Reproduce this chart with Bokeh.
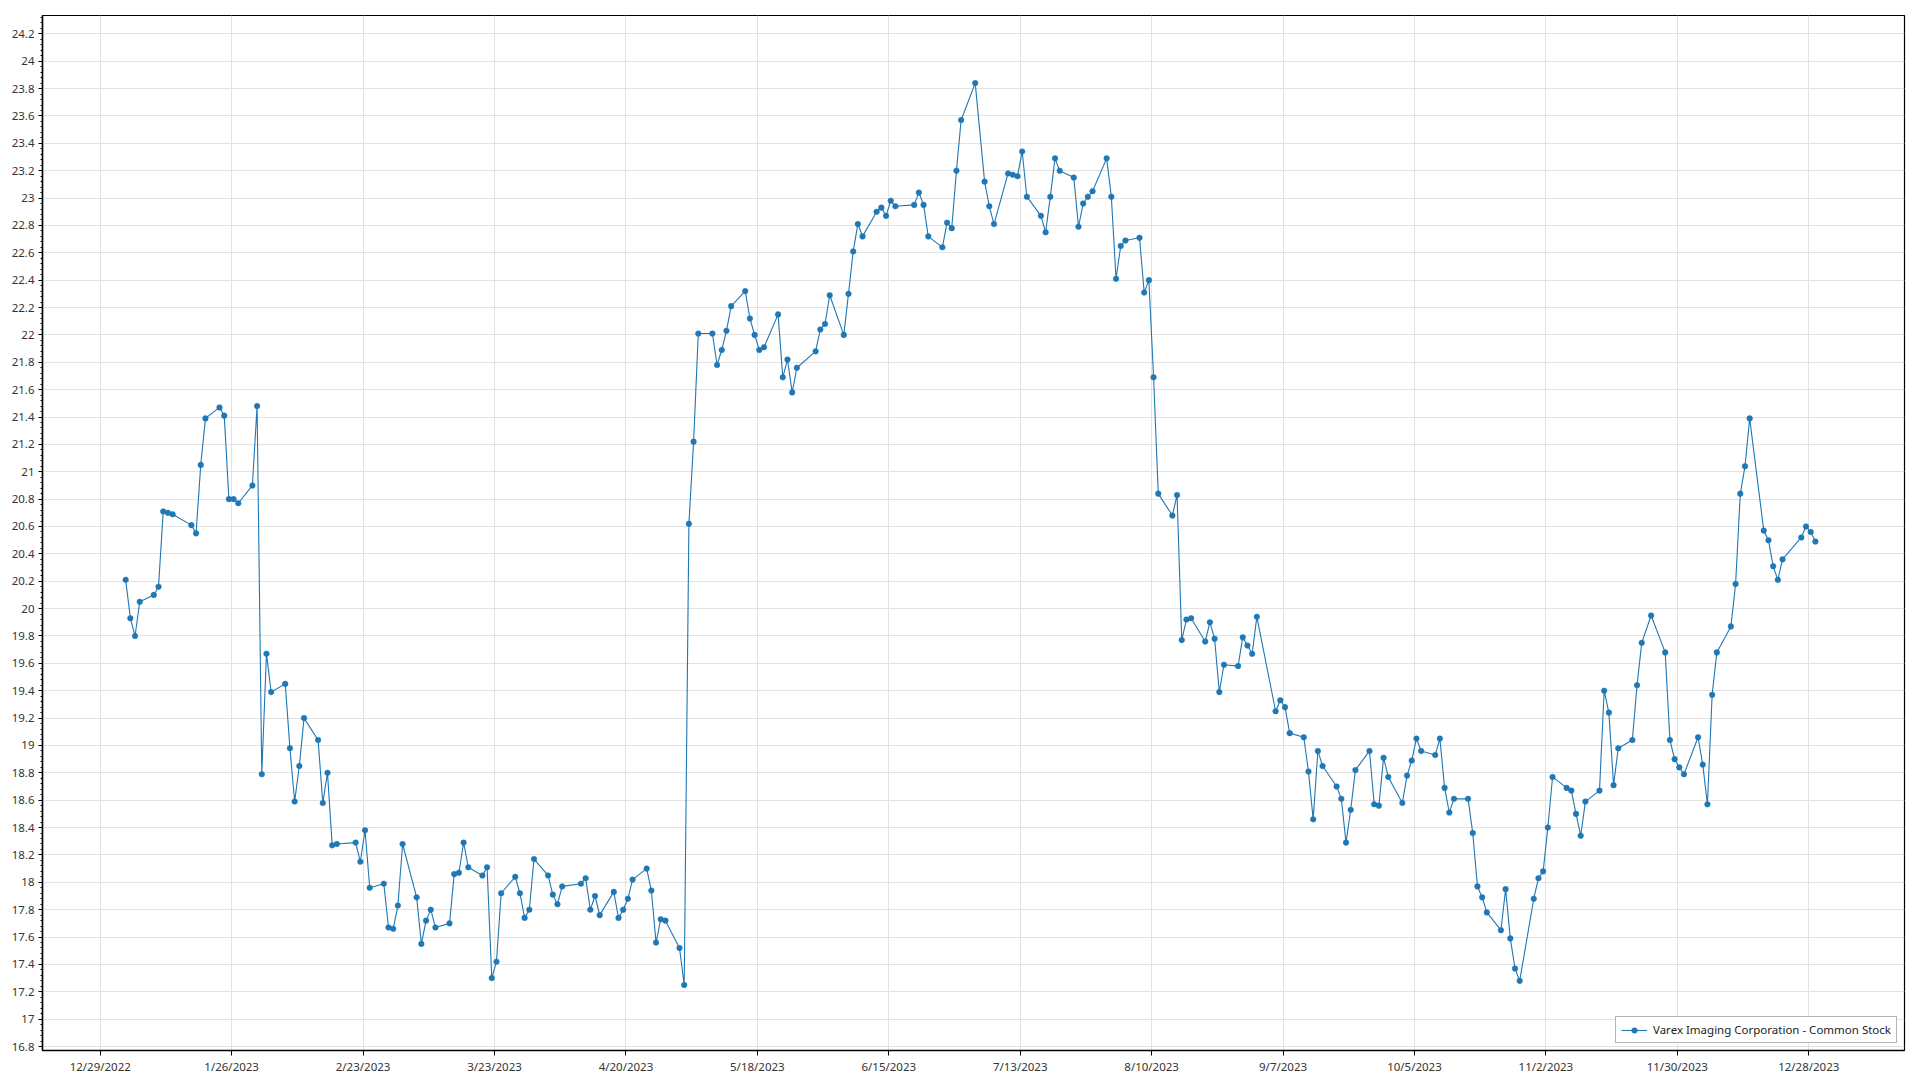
import pandas as pd
from bokeh.plotting import figure
from bokeh.models import (Range1d, FixedTicker, SingleIntervalTicker,
                          CustomJSTickFormatter, Legend, LegendItem, ColumnDataSource)
from bokeh.embed import file_html
from bokeh.resources import INLINE

series_name = "Varex Imaging Corporation - Common Stock"

# NYSE holidays inside the plotted span (trading calendar)
holidays_2023 = ["2023-01-16", "2023-02-20", "2023-04-07", "2023-05-29", "2023-06-19",
                 "2023-07-04", "2023-09-04", "2023-11-23", "2023-12-25"]
# quotes are time-stamped during the trading day, not at midnight
quote_hour = 10

prices_jan = [20.21, 19.93, 19.80, 20.05, 20.10, 20.16, 20.71, 20.70, 20.69, 20.61,
              20.55, 21.05, 21.39, 21.47, 21.41, 20.80, 20.80, 20.77, 20.90, 21.48]
prices_feb = [18.79, 19.67, 19.39, 19.45, 18.98, 18.59, 18.85, 19.20, 19.04, 18.58,
              18.80, 18.27, 18.28, 18.29, 18.15, 18.38, 17.96, 17.99, 17.67]
prices_mar = [17.66, 17.83, 18.28, 17.89, 17.55, 17.72, 17.80, 17.67, 17.70, 18.06,
              18.07, 18.29, 18.11, 18.05, 18.11, 17.30, 17.42, 17.92, 18.04, 17.92,
              17.74, 17.80, 18.17]
prices_apr = [18.05, 17.91, 17.84, 17.97, 17.99, 18.03, 17.80, 17.90, 17.76, 17.93,
              17.74, 17.80, 17.88, 18.02, 18.10, 17.94, 17.56, 17.73, 17.72]
prices_may = [17.52, 17.25, 20.62, 21.22, 22.01, 22.01, 21.78, 21.89, 22.03, 22.21,
              22.32, 22.12, 22.00, 21.89, 21.91, 22.15, 21.69, 21.82, 21.58, 21.76,
              21.88, 22.04]
prices_jun = [22.08, 22.29, 22.00, 22.30, 22.61, 22.81, 22.72, 22.90, 22.93, 22.87,
              22.98, 22.94, 22.95, 23.04, 22.95, 22.72, 22.64, 22.82, 22.78, 23.20,
              23.57]
prices_jul = [23.84, 23.12, 22.94, 22.81, 23.18, 23.17, 23.16, 23.34, 23.01, 22.87,
              22.75, 23.01, 23.29, 23.20, 23.15, 22.79, 22.96, 23.01, 23.05, 23.29]
prices_aug = [23.01, 22.41, 22.65, 22.69, 22.71, 22.31, 22.40, 21.69, 20.84, 20.68,
              20.83, 19.77, 19.92, 19.93, 19.76, 19.90, 19.78, 19.39, 19.59, 19.58,
              19.79, 19.73, 19.67]
prices_sep = [19.94, 19.25, 19.33, 19.28, 19.09, 19.06, 18.81, 18.46, 18.96, 18.85,
              18.70, 18.61, 18.29, 18.53, 18.82, 18.96, 18.57, 18.56, 18.91, 18.77]
prices_oct = [18.58, 18.78, 18.89, 19.05, 18.96, 18.93, 19.05, 18.69, 18.51, 18.61,
              18.61, 18.36, 17.97, 17.89, 17.78, 17.65, 17.95, 17.59, 17.37, 17.28,
              17.88, 18.03]
prices_nov = [18.08, 18.40, 18.77, 18.69, 18.67, 18.50, 18.34, 18.59, 18.67, 19.40,
              19.24, 18.71, 18.98, 19.04, 19.44, 19.75, 19.95, 19.68, 19.04, 18.90,
              18.84]
prices_dec = [18.79, 19.06, 18.86, 18.57, 19.37, 19.68, 19.87, 20.18, 20.84, 21.04,
              21.39, 20.57, 20.50, 20.31, 20.21, 20.36, 20.52, 20.60, 20.56, 20.49]

x_tick_labels = ["12/29/2022", "1/26/2023", "2/23/2023", "3/23/2023", "4/20/2023",
                 "5/18/2023", "6/15/2023", "7/13/2023", "8/10/2023", "9/7/2023",
                 "10/5/2023", "11/2/2023", "11/30/2023", "12/28/2023"]

prices = (prices_jan + prices_feb + prices_mar + prices_apr + prices_may + prices_jun +
          prices_jul + prices_aug + prices_sep + prices_oct + prices_nov + prices_dec)
dates = pd.bdate_range("2023-01-03", "2023-12-29", freq="C", holidays=holidays_2023)
dates = list(dates[:len(prices)] + pd.Timedelta(hours=quote_hour))

src = ColumnDataSource(data=dict(date=dates, price=prices))

tick_ms = [int(pd.to_datetime(s, format="%m/%d/%Y").value // 10**6) for s in x_tick_labels]
DAY = 86400000.0

p = figure(x_axis_type="datetime", output_backend="svg", toolbar_location=None,
           frame_width=1862, frame_height=1035,
           min_border_left=42, min_border_right=6, min_border_top=15, min_border_bottom=22,
           background_fill_color="white", border_fill_color="white")

p.x_range = Range1d(start=tick_ms[0] - 12.3 * DAY, end=tick_ms[0] + 384.4 * DAY)
p.y_range = Range1d(start=16.771, end=24.334)

line_r = p.line("date", "price", source=src, line_color="#1f77b4", line_width=1.1)
dot_r = p.scatter("date", "price", source=src, size=5.6, marker="circle",
                  fill_color="#1f77b4", line_color="#1f77b4", line_width=0.5)

# axes
label_font = "Noto Sans"
for ax in (p.xaxis[0], p.yaxis[0]):
    ax.axis_line_color = "black"
    ax.axis_line_width = 1.5
    ax.major_tick_line_color = "black"
    ax.minor_tick_line_color = "black"
    ax.major_tick_in = 0
    ax.minor_tick_in = 0
    ax.major_label_text_font = label_font
    ax.major_label_text_font_size = "11.5px"
    ax.major_label_text_color = "#333333"

p.xaxis.ticker = FixedTicker(ticks=tick_ms)
p.xaxis.formatter = CustomJSTickFormatter(
    args=dict(tvals=tick_ms, tlabels=x_tick_labels),
    code="const i = tvals.indexOf(tick); return i >= 0 ? tlabels[i] : '';")
p.xaxis.major_tick_out = 5
p.xaxis.major_label_standoff = 3

p.yaxis.ticker = SingleIntervalTicker(interval=0.2, num_minor_ticks=5)
p.yaxis.formatter = CustomJSTickFormatter(code="return String(Math.round(tick * 10) / 10);")
p.yaxis.major_tick_out = 4
p.yaxis.minor_tick_out = 2
p.yaxis.major_label_standoff = 4

p.xgrid.grid_line_color = "#e2e2e2"
p.ygrid.grid_line_color = "#e2e2e2"
p.xgrid.grid_line_width = 1
p.ygrid.grid_line_width = 1

p.outline_line_color = "black"
p.outline_line_width = 1.2
p.outline_line_alpha = 1.0

legend = Legend(items=[LegendItem(label=series_name, renderers=[line_r, dot_r])],
                location="bottom_right")
legend.label_text_font = label_font
legend.label_text_font_size = "11.5px"
legend.label_text_color = "#222222"
legend.border_line_color = "#6a6a6a"
legend.border_line_width = 1.5
legend.background_fill_color = "white"
legend.background_fill_alpha = 1.0
legend.padding = 5
legend.margin = 7
legend.glyph_width = 26
legend.glyph_height = 14
legend.label_height = 14
legend.label_standoff = 6
p.add_layout(legend)

open("out.html", "w").write(file_html(p, INLINE))
